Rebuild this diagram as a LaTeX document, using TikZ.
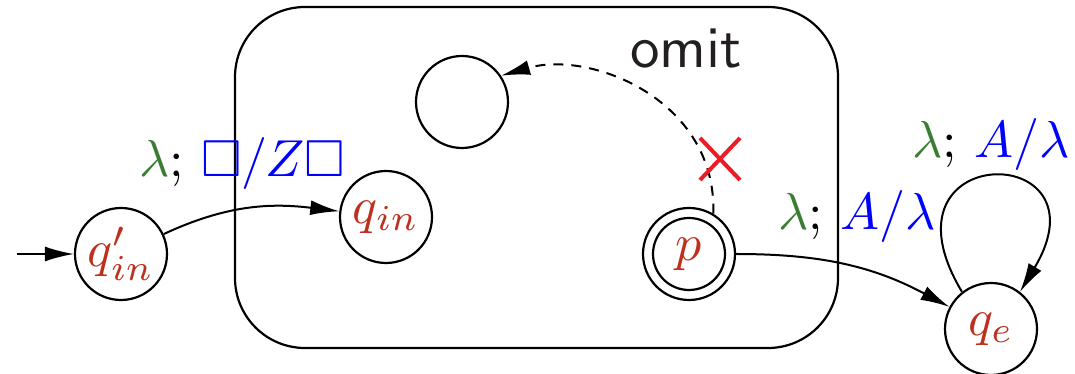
\documentclass[tikz,border=0pt]{standalone}
\usepackage{graphicx}
\usepackage{amssymb}
\usetikzlibrary{arrows.meta,shapes.misc}
\definecolor{stred}{RGB}{190,48,30}
\definecolor{lgreen}{RGB}{58,125,50}
\definecolor{lblue}{RGB}{0,0,255}
\definecolor{xred}{RGB}{237,28,36}
\definecolor{ink}{RGB}{35,31,32}
\newcommand{\bigtxt}[1]{\scalebox{5.2}{\fontsize{10}{12}\selectfont #1}}
\begin{document}
\begin{tikzpicture}[x=1pt,y=1pt,
  state/.style={circle,draw,line width=2.2pt,minimum size=92pt,inner sep=0pt,text=stred},
  edge/.style={line width=2pt,-{Latex[length=29pt,width=15pt]}},
  lab/.style={anchor=base,inner sep=0pt}]
\useasboundingbox (0,0) rectangle (1075,374);
\node[draw,line width=2.2pt,rounded corners=70pt,minimum width=603pt,minimum height=341pt,inner sep=0pt] (box) at (536.5,196.5) {};
\node[anchor=base,inner sep=0pt,text=ink] (omit) at (686,306) {\scalebox{5.9}{\fontsize{10}{12}\selectfont\sffamily omit}};
\node[state] (qi0) at (121,120) {\bigtxt{$q'_{in}$}};
\node[state] (qin) at (386,157) {\bigtxt{$q_{in}$}};
\node[state] (e) at (462,272) {};
\node[state] (p) at (689,120) {\bigtxt{$p$}};
\draw[line width=2.2pt] (p.center) circle[radius=36pt];
\node[state] (qe) at (991,45) {\bigtxt{$q_e$}};
\coordinate (start) at (17,120);
\draw[edge] (start) -- (qi0);
\draw[edge] (qi0.25) to[out=25,in=173] (qin.173);
\draw[edge] (p.east) to[out=0,in=152] (qe.152);
\draw[edge] (qe.128) to[out=121,in=59,distance=178pt] (qe.52);
\draw[edge,dash pattern=on 10pt off 8pt] (p.59) to[out=88,in=16,out distance=113pt,in distance=94pt] (e.34);
\node[cross out,draw=xred,line width=4pt,minimum width=36pt,minimum height=38pt,inner sep=0pt] (x) at (720,215) {};
\node[lab] (l1) at (242,197) {\bigtxt{{\color{lgreen}$\lambda$}; {\color{lblue}$\Box/Z\Box$}}};
\node[lab] (l2) at (857,144) {\bigtxt{{\color{lgreen}$\lambda$}; {\color{lblue}$A/\lambda$}}};
\node[lab] (l3) at (991,216) {\bigtxt{{\color{lgreen}$\lambda$}; {\color{lblue}$A/\lambda$}}};
\end{tikzpicture}
\end{document}
